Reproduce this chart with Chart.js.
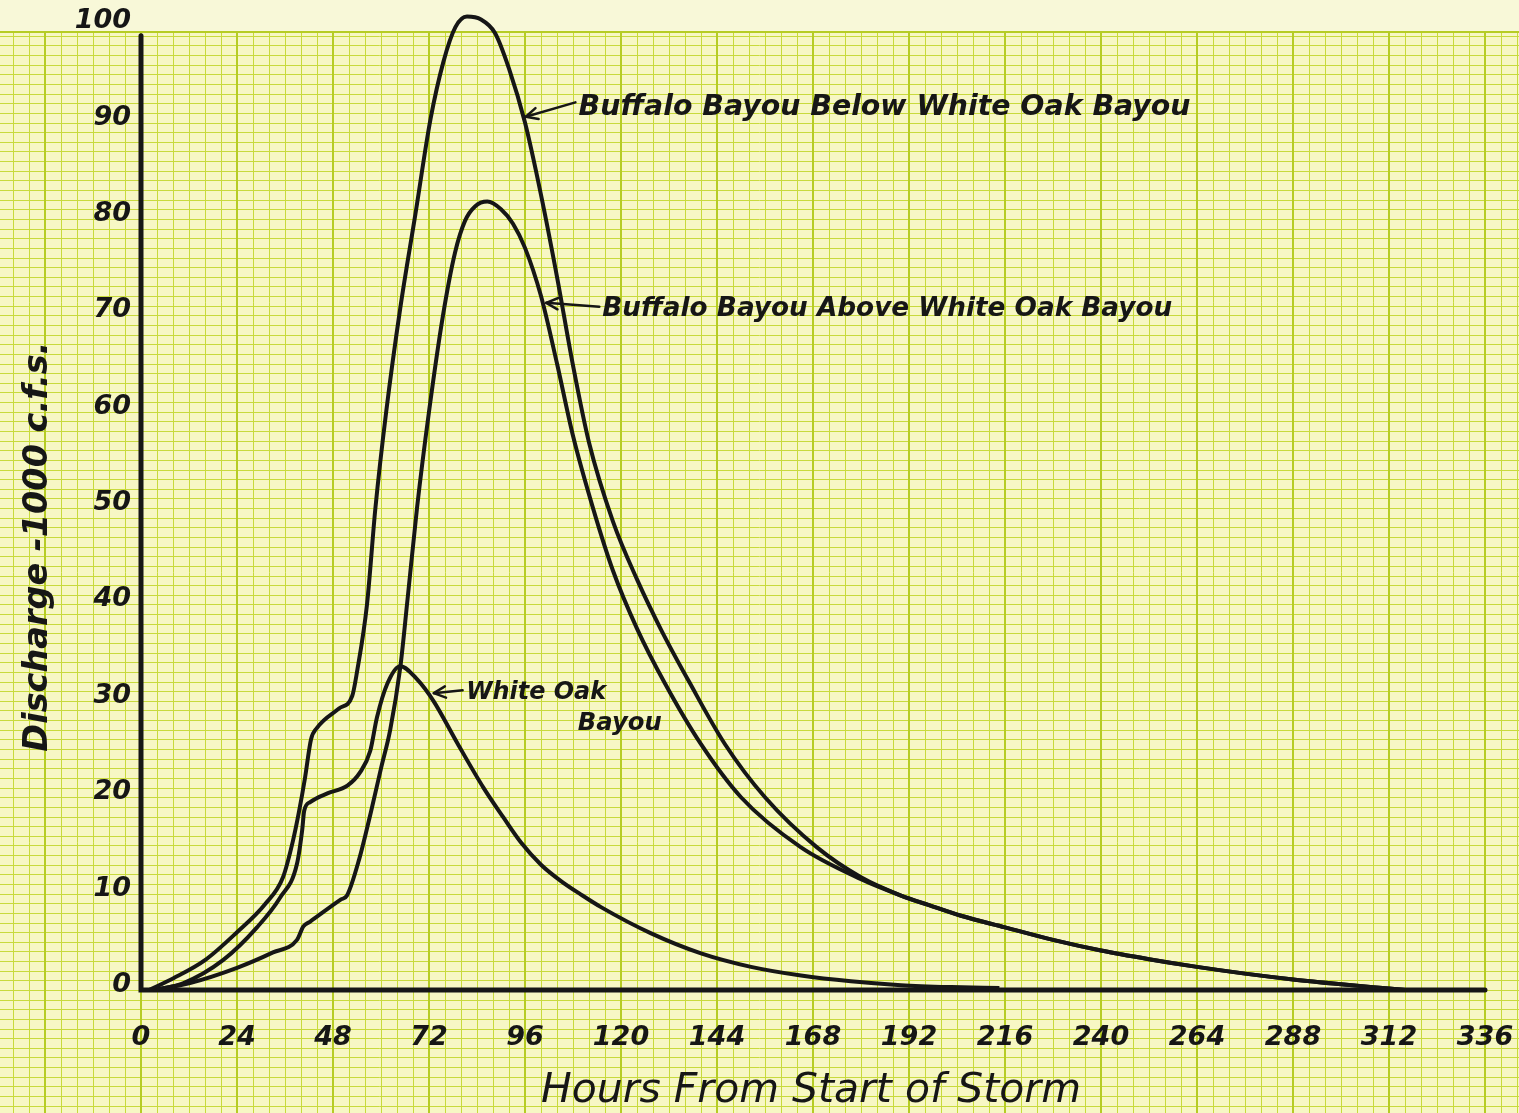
<!DOCTYPE html>
<html>
<head>
<meta charset="utf-8">
<script src="https://cdn.jsdelivr.net/npm/chart.js@4.4.1/dist/chart.umd.min.js"></script>
<style>
  html, body { margin: 0; padding: 0; background: #f8f8d6; }
  #wrap { width: 1519px; height: 1113px; }
</style>
</head>
<body>
<div id="wrap"><canvas id="c" width="1519" height="1113"></canvas></div>
<script>
// ---- data (hours from start of storm, discharge in 1000 c.f.s.) ----
const hourTicks = [0, 24, 48, 72, 96, 120, 144, 168, 192, 216, 240, 264, 288, 312, 336];
const flowTicks = [0, 10, 20, 30, 40, 50, 60, 70, 80, 90, 100];

const belowHours = [2, 8, 16, 24, 31, 35.5, 38, 39.5, 41, 42.5, 44, 49.5, 52.8, 54, 56.5, 58.6, 61.3, 64.8, 68.6, 72.4, 75.6, 78.6, 81.5, 85, 88.5, 92, 96, 100, 104, 108, 112, 118, 124, 130, 137, 146, 156, 169, 180, 190, 197, 205, 216, 228, 240, 252, 264, 276, 288, 300, 312, 316];
const belowFlow  = [0, 1.2, 3.1, 6, 8.9, 11.7, 15.5, 18.5, 22, 26, 27.2, 29.2, 30.5, 33, 40, 50, 60, 70.7, 80.5, 90.4, 96.3, 99.9, 101, 100.7, 99.3, 95.6, 90, 82.5, 74, 64.8, 56.8, 48.6, 42.6, 37.4, 32, 25.5, 20, 14.8, 11.7, 9.8, 8.8, 7.7, 6.5, 5.2, 4.1, 3.2, 2.4, 1.7, 1.1, 0.6, 0.15, 0];

const aboveHours = [3, 12, 24, 33, 39, 40.6, 42.3, 50, 51.5, 54.5, 57.5, 60, 62.3, 64.8, 66.6, 69, 72, 75.5, 78.5, 81, 83.5, 86.6, 90, 93, 96, 100, 104, 108, 113, 118, 124, 131, 140, 150, 165, 180, 190, 197, 205, 216, 228, 240, 252, 264, 276, 288, 300, 312, 316];
const aboveFlow  = [0, 0.7, 2.3, 3.9, 5.2, 6.6, 7.1, 9.4, 9.8, 13.5, 18.5, 23, 27, 33.4, 40.4, 50, 60, 70, 76.5, 79.8, 81.3, 81.8, 81, 79.5, 77, 72, 65, 57.5, 50, 43.5, 37.5, 31.8, 25.5, 20, 14.8, 11.5, 9.8, 8.8, 7.7, 6.5, 5.2, 4.1, 3.2, 2.4, 1.7, 1.1, 0.6, 0.15, 0];

const whiteOakHours = [3, 10.5, 20.5, 29, 34.8, 39, 40.3, 40.8, 42.3, 46.6, 51.6, 54.8, 57.3, 59, 61.6, 64.8, 69.1, 73.1, 79.1, 85.6, 90.6, 95, 100, 105, 110, 115, 127.4, 140, 152.5, 165, 177.5, 190, 202.6, 214.6];
const whiteOakFlow  = [0, 0.7, 3.1, 6.5, 9.6, 13.1, 16.6, 18.6, 19.5, 20.4, 21.2, 22.6, 24.8, 28.3, 31.8, 33.6, 32.2, 30, 25.6, 21, 17.9, 15.3, 13, 11.3, 9.9, 8.6, 5.9, 3.8, 2.4, 1.5, 0.9, 0.5, 0.3, 0.2];

const seriesNames = ['Buffalo Bayou Below White Oak Bayou', 'Buffalo Bayou Above White Oak Bayou', 'White Oak Bayou'];
const xTitle = 'Hours From Start of Storm';
const yTitle = 'Discharge -1000 c.f.s.';

// ---- styling ----
const INK = '#161616';
const PAPER = '#f7f7c4';
const GRID_MINOR = '#c8da3c';
const GRID_MAJOR = '#b6cc24';
const HAND = '"DejaVu Sans", "Open Sans", sans-serif';

function pts(hs, vs) { return hs.map((h, i) => ({ x: h, y: vs[i] })); }

// draw text scaled to a target width (hand lettering is wide)
function fitText(ctx, text, px, py, targetW, weight, baseSize) {
  ctx.font = 'italic ' + weight + ' ' + baseSize + 'px ' + HAND;
  const w = ctx.measureText(text).width;
  const size = baseSize * targetW / w;
  ctx.font = 'italic ' + weight + ' ' + size.toFixed(2) + 'px ' + HAND;
  ctx.fillText(text, px, py);
}

const paperPlugin = {
  id: 'paper',
  beforeDraw(chart) {
    const { ctx, width, height } = chart;
    const x = chart.scales.x, y = chart.scales.y;
    ctx.save();
    ctx.fillStyle = '#f8f8d8';
    ctx.fillRect(0, 0, width, height);
    const gridTop = Math.round(y.getPixelForValue(99.45));
    ctx.fillStyle = PAPER;
    ctx.fillRect(0, gridTop, width, height - gridTop);
    // horizontal rulings every 1 unit
    ctx.strokeStyle = GRID_MINOR;
    ctx.lineWidth = 1;
    for (let v = 99; v >= -20; v -= 1) {
      const py = Math.round(y.getPixelForValue(v)) + 0.5;
      if (py > height) break;
      ctx.beginPath(); ctx.moveTo(0, py); ctx.lineTo(width, py); ctx.stroke();
    }
    // vertical rulings every 4 hours, heavier every 24
    for (let h = -48; h <= 372; h += 4) {
      const major = h % 24 === 0;
      const px = Math.round(x.getPixelForValue(h)) + (major ? 0 : 0.5);
      if (px < 0 || px > width) continue;
      ctx.strokeStyle = major ? GRID_MAJOR : GRID_MINOR;
      ctx.lineWidth = major ? 2 : 1;
      ctx.beginPath(); ctx.moveTo(px, gridTop); ctx.lineTo(px, height); ctx.stroke();
    }
    ctx.strokeStyle = GRID_MAJOR; ctx.lineWidth = 2;
    ctx.beginPath(); ctx.moveTo(0, gridTop); ctx.lineTo(width, gridTop); ctx.stroke();
    ctx.restore();
  },
  beforeDatasetsDraw(chart) {
    // hand-ruled axes: x axis over the full hour range, y axis up to 99
    const { ctx } = chart;
    const x = chart.scales.x, y = chart.scales.y;
    ctx.save();
    ctx.strokeStyle = INK; ctx.lineWidth = 5; ctx.lineCap = 'round';
    ctx.beginPath();
    ctx.moveTo(x.getPixelForValue(0), y.getPixelForValue(99));
    ctx.lineTo(x.getPixelForValue(0), y.getPixelForValue(0));
    ctx.lineTo(x.getPixelForValue(336), y.getPixelForValue(0));
    ctx.stroke();
    ctx.restore();
  }
};

function arrow(ctx, x0, y0, x1, y1) {
  ctx.beginPath(); ctx.moveTo(x0, y0); ctx.lineTo(x1, y1); ctx.stroke();
  const a = Math.atan2(y1 - y0, x1 - x0);
  const L = 13;
  ctx.beginPath();
  ctx.moveTo(x1 - L * Math.cos(a - 0.45), y1 - L * Math.sin(a - 0.45));
  ctx.lineTo(x1, y1);
  ctx.lineTo(x1 - L * Math.cos(a + 0.45), y1 - L * Math.sin(a + 0.45));
  ctx.stroke();
}

const labelPlugin = {
  id: 'labels',
  afterDatasetsDraw(chart) {
    const { ctx } = chart;
    const x = chart.scales.x, y = chart.scales.y;
    const X = h => x.getPixelForValue(h), Y = v => y.getPixelForValue(v);
    ctx.save();
    ctx.fillStyle = INK; ctx.strokeStyle = INK;
    ctx.lineWidth = 2.5; ctx.lineCap = 'round'; ctx.lineJoin = 'round';
    ctx.textBaseline = 'middle'; ctx.textAlign = 'left';
    // Below
    arrow(ctx, X(108.6), Y(92.1), X(96.2), Y(90.6));
    fitText(ctx, seriesNames[0], X(109.4), Y(91.6), 612, 'bold', 28);
    // Above
    arrow(ctx, X(114.6), Y(70.9), X(101.3), Y(71.3));
    fitText(ctx, seriesNames[1], X(115.3), Y(70.6), 570, 'bold', 28);
    // White Oak
    arrow(ctx, X(80.4), Y(31.1), X(73.2), Y(30.8));
    fitText(ctx, 'White Oak', X(81.3), Y(30.8), 140, 'bold', 24);
    fitText(ctx, 'Bayou', X(109.2), Y(27.6), 84, 'bold', 24);
    // axis titles
    ctx.textAlign = 'center';
    fitText(ctx, xTitle, X(167.5), Y(-10.5), 540, 'normal', 36);
    ctx.translate(38, Y(46));
    ctx.rotate(-Math.PI / 2);
    fitText(ctx, yTitle, 0, 0, 410, 'bold', 32);
    ctx.restore();
  }
};

const lineStyle = {
  borderColor: INK, borderWidth: 4, pointRadius: 0, fill: false,
  cubicInterpolationMode: 'monotone', clip: false
};

const tickFont = { family: HAND, size: 27, weight: 'bold', style: 'italic' };

new Chart(document.getElementById('c'), {
  type: 'line',
  data: {
    datasets: [
      Object.assign({ label: seriesNames[0], data: pts(belowHours, belowFlow) }, lineStyle),
      Object.assign({ label: seriesNames[1], data: pts(aboveHours, aboveFlow) }, lineStyle),
      Object.assign({ label: seriesNames[2], data: pts(whiteOakHours, whiteOakFlow) }, lineStyle)
    ]
  },
  options: {
    responsive: false,
    animation: false,
    devicePixelRatio: 1,
    layout: { padding: { top: 24, right: 0, left: 0, bottom: 0 } },
    plugins: { legend: { display: false }, tooltip: { enabled: false } },
    scales: {
      x: {
        type: 'linear', min: 0, max: 336,
        afterBuildTicks: s => { s.ticks = hourTicks.map(v => ({ value: v })); },
        afterFit: s => { s.height = 123; s.paddingRight = 34; },
        grid: { display: false, drawTicks: false },
        border: { display: false },
        ticks: { color: INK, padding: 32, maxRotation: 0, autoSkip: false, font: tickFont },
        title: { display: false }
      },
      y: {
        type: 'linear', min: 0, max: 100,
        afterBuildTicks: s => { s.ticks = flowTicks.map(v => ({ value: v })); },
        afterFit: s => { s.width = 141; },
        grid: { display: false, drawTicks: false },
        border: { display: false },
        ticks: { color: INK, padding: 10, labelOffset: -5, font: tickFont },
        title: { display: false }
      }
    }
  },
  plugins: [paperPlugin, labelPlugin]
});
</script>
</body>
</html>
